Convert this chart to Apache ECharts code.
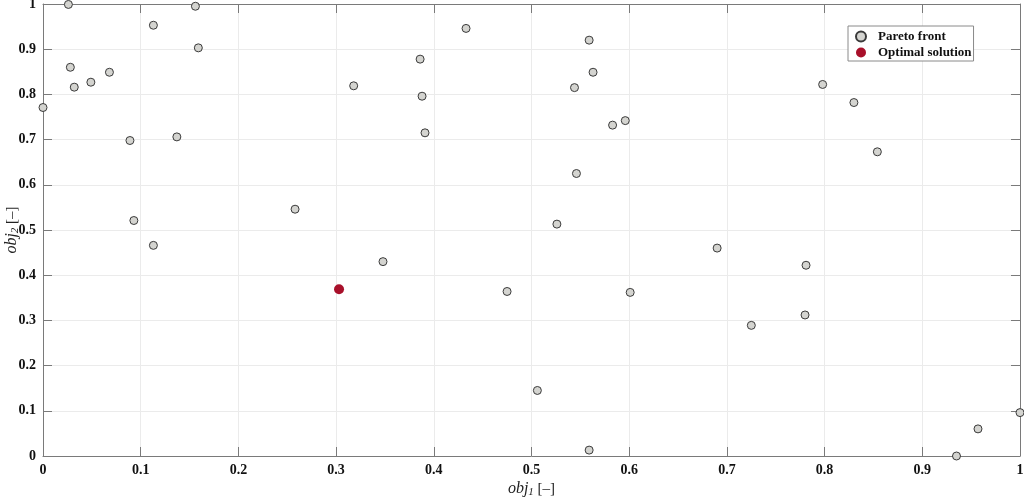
<!DOCTYPE html>
<html>
<head>
<meta charset="utf-8">
<script src="https://cdn.jsdelivr.net/npm/echarts@6/dist/echarts.min.js"></script>
<style>
  html, body { margin: 0; padding: 0; background: #fff; }
  #myChart { width: 1024px; height: 497px; }
</style>
</head>
<body>
<div id="myChart"></div>
<script>
// Pareto front points (obj1, obj2)
const paretoObj1 = [
  0.026, 0.156, 0.113, 0.159, 0.028, 0.068, 0.049, 0.032, 0.318, 0.000,
  0.089, 0.137, 0.258, 0.093, 0.433, 0.559, 0.386, 0.563, 0.544, 0.388,
  0.596, 0.583, 0.391, 0.546, 0.526, 0.798, 0.830, 0.854, 0.113, 0.348,
  0.475, 0.601, 0.506, 0.559, 0.690, 0.781, 0.725, 0.780, 1.000, 0.957,
  0.935
];
const paretoObj2 = [
  0.999, 0.995, 0.953, 0.903, 0.860, 0.849, 0.827, 0.816, 0.819, 0.771,
  0.698, 0.706, 0.546, 0.521, 0.946, 0.920, 0.878, 0.849, 0.815, 0.796,
  0.742, 0.732, 0.715, 0.625, 0.513, 0.822, 0.782, 0.673, 0.466, 0.430,
  0.364, 0.362, 0.145, 0.013, 0.460, 0.422, 0.289, 0.312, 0.096, 0.060,
  0.000
];
// optimal solution
const optimalObj1 = [0.303];
const optimalObj2 = [0.369];

const seriesNames = ["Pareto front", "Optimal solution"];

let myChart = echarts.init(document.getElementById("myChart"));

const serif = "Liberation Serif";
const axisColor = "#7a7a7a";

const nameRich = {
  i: { fontFamily: serif, fontStyle: "italic", fontSize: 16, color: "#222" },
  s: { fontFamily: serif, fontStyle: "italic", fontSize: 11, color: "#222", padding: [7, 0, 0, 0] },
  n: { fontFamily: serif, fontSize: 15, color: "#222" }
};

function mainAxis(name, nameGap) {
  return {
    type: "value",
    min: 0,
    max: 1,
    interval: 0.1,
    name: name,
    nameLocation: "middle",
    nameGap: nameGap,
    nameMoveOverlap: false,
    nameTextStyle: { rich: nameRich },
    axisLine: { show: true, lineStyle: { color: axisColor, width: 1 } },
    axisTick: { show: true, inside: true, length: 9, lineStyle: { color: axisColor } },
    axisLabel: {
      fontFamily: serif,
      fontWeight: "bold",
      fontSize: 14,
      color: "#111",
      margin: 7
    },
    splitLine: { show: true, lineStyle: { color: "#ebebeb", width: 1 } }
  };
}

function mirrorAxis(pos) {
  return {
    type: "value",
    position: pos,
    min: 0,
    max: 1,
    interval: 0.1,
    axisLine: { show: true, onZero: false, lineStyle: { color: axisColor, width: 1 } },
    axisTick: { show: true, inside: true, length: 9, lineStyle: { color: axisColor } },
    axisLabel: { show: false },
    splitLine: { show: false }
  };
}

let option = {
  animation: false,
  backgroundColor: "#fff",
  grid: {
    left: 43, right: 4, top: 4, bottom: 41,
    containLabel: false,
    outerBoundsMode: "none"
  },
  legend: {
    data: seriesNames,
    orient: "vertical",
    left: 848,
    top: 26,
    padding: [4, 2, 2, 7],
    itemGap: 3,
    itemWidth: 24,
    itemHeight: 10,
    backgroundColor: "#fff",
    borderColor: "#8a8a8a",
    borderWidth: 1,
    borderRadius: 0,
    textStyle: { fontFamily: serif, fontWeight: "bold", fontSize: 13, color: "#111" }
  },
  xAxis: [
    Object.assign(mainAxis("{i|obj}{s|1}{n| [–]}", 24), { position: "bottom" }),
    mirrorAxis("top")
  ],
  yAxis: [
    Object.assign(mainAxis("{i|obj}{s|2}{n| [–]}", 22), { position: "left" }),
    mirrorAxis("right")
  ],
  series: [
    {
      name: seriesNames[0],
      type: "scatter",
      clip: false,
      symbol: "circle",
      symbolSize: 8,
      itemStyle: { color: "#d4d4d0", borderColor: "#3a3a3a", borderWidth: 1, opacity: 1 },
      data: paretoObj1.map((v, i) => [v, paretoObj2[i]]),
      z: 5
    },
    {
      name: seriesNames[1],
      type: "scatter",
      clip: false,
      symbol: "circle",
      symbolSize: 10,
      itemStyle: { color: "#a8102a", opacity: 1 },
      data: optimalObj1.map((v, i) => [v, optimalObj2[i]]),
      z: 6
    }
  ]
};

myChart.setOption(option);
</script>
</body>
</html>
